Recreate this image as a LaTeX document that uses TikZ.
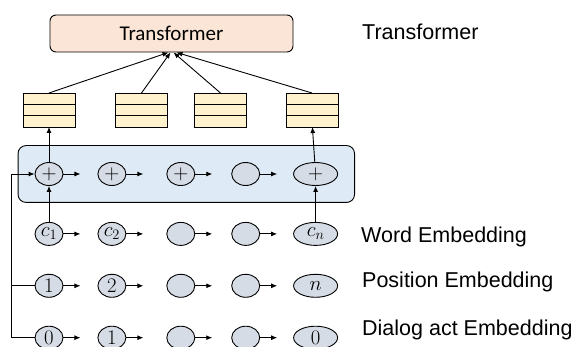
\documentclass[tikz,border=0pt]{standalone}
\usepackage{fontspec}
\setmainfont{Liberation Sans}
\newfontfamily\boxfont{Carlito}
\usetikzlibrary{positioning,shapes.geometric,arrows.meta,fit,backgrounds}

\definecolor{embfill}{RGB}{214,220,229}
\definecolor{layerfill}{RGB}{222,235,247}
\definecolor{cellfill}{RGB}{255,242,204}
\definecolor{transfill}{RGB}{251,229,214}

\tikzset{
	emb/.style={ellipse, draw, fill=embfill, line width=0.9pt, minimum width=28pt, minimum height=23pt, inner sep=0pt, font=\fontsize{20}{20}\selectfont},
	wide/.style={minimum width=44pt},
	cell/.style={draw, fill=cellfill, line width=0.9pt, minimum width=52pt, minimum height=11.33pt, inner sep=0pt, outer sep=0pt},
	tbox/.style={draw, fill=transfill, rounded corners=6pt, line width=0.9pt, minimum width=243pt, minimum height=37pt, font=\boxfont\fontsize{21}{25}\selectfont},
	layer/.style={draw, fill=layerfill, rounded corners=8pt, line width=0.9pt, inner sep=16.5pt},
	arr/.style={-{Latex[length=6pt,width=5pt]}, line width=0.9pt},
	lbl/.style={anchor=base west, inner sep=0pt, font=\fontsize{21.5}{26}\selectfont},
}

\begin{document}
\begin{tikzpicture}[x=1pt,y=-1pt]
	\useasboundingbox (0,0) rectangle (581,347);
	
	\node[tbox] (t) at (171.5,33.5) {Transformer};
	
	% hidden states
	\foreach \k/\x in {1/49,2/141.5,3/220.5,4/312} {
		\node[cell] (h\k1) at (\x,98.67) {};
		\node[cell, below=0pt of h\k1] (h\k2) {};
		\node[cell, below=0pt of h\k2] (h\k3) {};
	}
	
	% sums
	\node[emb] (p1) at (49,174) {$+$};
	\node[emb, right=34pt of p1] (p2) {$+$};
	\node[emb, right=40pt of p2] (p3) {$+$};
	\node[emb, right=36pt of p3] (p4) {};
	\node[emb, wide, right=33pt of p4] (p5) {$+$};
	
	% word embedding
	\node[emb, below=36pt of p1] (w1) {$c_1$};
	\node[emb, below=36pt of p2] (w2) {$c_2$};
	\node[emb, below=36pt of p3] (w3) {};
	\node[emb, below=36pt of p4] (w4) {};
	\node[emb, wide, below=36pt of p5] (w5) {$c_n$};
	
	% position embedding
	\node[emb, below=28pt of w1] (s1) {$1$};
	\node[emb, below=28pt of w2] (s2) {$2$};
	\node[emb, below=28pt of w3] (s3) {};
	\node[emb, below=28pt of w4] (s4) {};
	\node[emb, wide, below=28pt of w5] (s5) {$n$};
	
	% dialog act embedding
	\node[emb, below=28pt of s1] (d1) {$0$};
	\node[emb, below=28pt of s2] (d2) {$1$};
	\node[emb, below=28pt of s3] (d3) {};
	\node[emb, below=28pt of s4] (d4) {};
	\node[emb, wide, below=28pt of s5] (d5) {$0$};
	
	\begin{scope}[on background layer]
		\node[layer, fit=(p1)(p5)] (pb) {};
	\end{scope}
	
	\node[lbl] (lt) at (362,40) {Transformer};
	\node[lbl] (lw) at (361,243) {Word Embedding};
	\node[lbl] (ls) at (362,288) {Position Embedding};
	\node[lbl] (ld) at (362,335) {Dialog act Embedding};
	
	\foreach \r in {p,w,s,d} {
		\foreach \i in {1,...,4} {
			\coordinate[right=17pt of \r\i.east] (\r\i x);
			\draw[arr] (\r\i.east) -- (\r\i x);
		}
	}
	
	\draw[arr] (w1) -- (p1);
	\draw[arr] (w5) -- (p5);
	\draw[arr] (p1) -- (h13);
	\draw[arr] (p5) -- (h43);
	
	\draw[arr] (h11.north) -- ([xshift=-3pt]t.south);
	\draw[arr] (h21.north) -- ([xshift=-1pt]t.south);
	\draw[arr] (h31.north) -- ([xshift=2pt]t.south);
	\draw[arr] (h41.north) -- ([xshift=5pt]t.south);
	
	\coordinate[left=23pt of p1.west] (lc);
	\draw[arr] (d1.west) -| (lc) -- (p1.west);
	\draw[line width=0.9pt] (s1.west) -- (s1.west -| lc);
\end{tikzpicture}
\end{document}
